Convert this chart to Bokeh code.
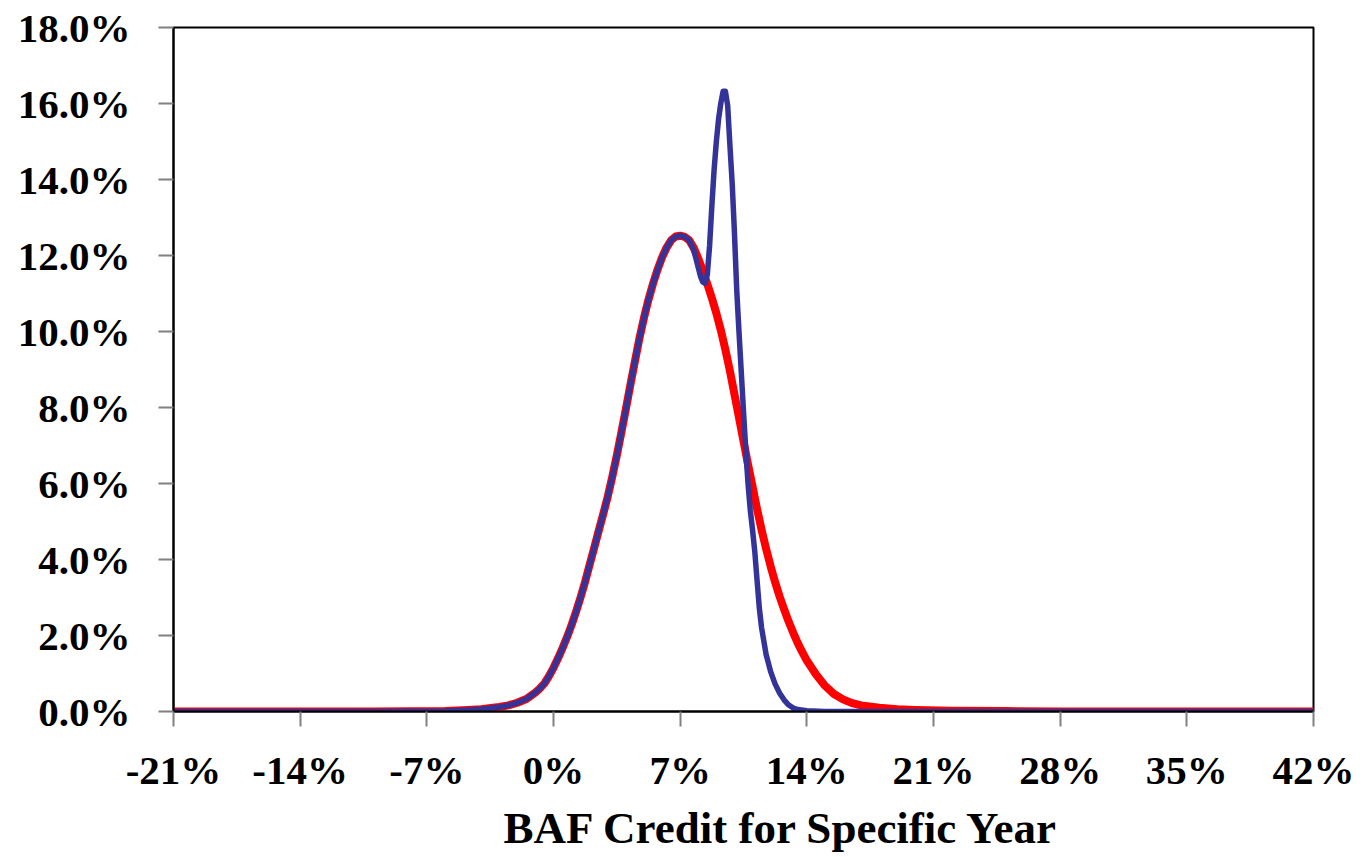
from bokeh.plotting import figure
from bokeh.models import FixedTicker, PrintfTickFormatter, Range1d, Title
from bokeh.embed import file_html
from bokeh.resources import INLINE

# BAF credit (%) and probability (%)
x_red = [-21, -10, -6, -5, -4, -3, -2.5, -2, -1.5, -1, -0.75, -0.5, -0.25, 0, 0.25, 0.5, 0.75,
         1, 1.25, 1.5, 1.75, 2, 2.25, 2.5, 2.75, 3, 3.25, 3.5, 3.75, 4, 4.25, 4.5, 4.75, 5,
         5.25, 5.5, 5.75, 6, 6.25, 6.5, 6.75, 7, 7.25, 7.5, 7.75, 8, 8.25, 8.5, 8.75, 9,
         9.25, 9.5, 9.75, 10, 10.25, 10.5, 10.75, 11, 11.25, 11.5, 11.75, 12, 12.25, 12.5,
         12.75, 13, 13.25, 13.5, 13.75, 14, 14.5, 15, 15.5, 16, 16.5, 17, 18, 19, 20, 22,
         25, 28, 35, 42]
red_series = [0, 0, 0.01, 0.03, 0.06, 0.12, 0.16, 0.23, 0.33, 0.50, 0.61, 0.74, 0.93, 1.15,
              1.40, 1.67, 1.96, 2.28, 2.63, 3.01, 3.42, 3.87, 4.31, 4.76, 5.20, 5.66, 6.18,
              6.74, 7.34, 7.96, 8.60, 9.22, 9.82, 10.36, 10.84, 11.26, 11.63, 11.95, 12.21,
              12.40, 12.50, 12.52, 12.49, 12.40, 12.20, 11.92, 11.60, 11.25, 10.88, 10.48,
              10.03, 9.52, 8.96, 8.35, 7.74, 7.12, 6.50, 5.92, 5.33, 4.78, 4.28, 3.82, 3.40,
              3.02, 2.68, 2.36, 2.07, 1.80, 1.56, 1.34, 0.98, 0.68, 0.46, 0.32, 0.22, 0.16,
              0.10, 0.06, 0.04, 0.02, 0.01, 0, 0, 0]

x_blue = [-21, -10, -6, -5, -4, -3, -2.5, -2, -1.5, -1, -0.75, -0.5, -0.25, 0, 0.25, 0.5, 0.75,
          1, 1.25, 1.5, 1.75, 2, 2.25, 2.5, 2.75, 3, 3.25, 3.5, 3.75, 4, 4.25, 4.5, 4.75, 5,
          5.25, 5.5, 5.75, 6, 6.25, 6.5, 6.75, 7, 7.25, 7.5, 7.75, 8, 8.125, 8.25, 8.375,
          8.5, 8.625, 8.75, 8.875, 9, 9.125, 9.25, 9.375, 9.5, 9.625, 9.75, 9.875, 10,
          10.125, 10.25, 10.375, 10.5, 10.625, 10.75, 10.875, 11, 11.125, 11.25, 11.375,
          11.5, 11.75, 12, 12.25, 12.5, 12.75, 13, 13.25, 13.5, 14, 15, 20, 28, 35, 42]
blue_series = [0, 0, 0.01, 0.03, 0.06, 0.12, 0.16, 0.23, 0.33, 0.50, 0.61, 0.74, 0.93, 1.15,
               1.40, 1.67, 1.96, 2.28, 2.63, 3.01, 3.42, 3.87, 4.31, 4.76, 5.20, 5.66, 6.18,
               6.74, 7.34, 7.96, 8.60, 9.22, 9.82, 10.36, 10.84, 11.26, 11.63, 11.95, 12.21,
               12.40, 12.50, 12.52, 12.49, 12.40, 12.15, 11.68, 11.45, 11.30, 11.27, 11.50,
               12.25, 13.30, 14.25, 15.00, 15.60, 16.02, 16.32, 16.32, 15.95, 14.90, 13.90,
               12.60, 11.10, 10.00, 8.95, 7.90, 6.90, 6.00, 5.30, 4.78, 4.20, 3.45, 2.72,
               2.20, 1.50, 1.05, 0.72, 0.48, 0.30, 0.17, 0.09, 0.05, 0.02, 0, 0, 0, 0, 0]

x_ticks = [-21, -14, -7, 0, 7, 14, 21, 28, 35, 42]
y_ticks = [0, 2, 4, 6, 8, 10, 12, 14, 16, 18]
x_title = "BAF Credit for Specific Year"

FONT = "Liberation Serif"

p = figure(width=1358, height=857, output_backend="svg", toolbar_location=None,
           x_range=Range1d(-21, 42), y_range=Range1d(0, 18),
           min_border_left=173, min_border_top=27, min_border_right=45,
           min_border_bottom=145)

p.background_fill_color = "white"
p.border_fill_color = "white"
p.grid.visible = False
p.outline_line_color = "black"
p.outline_line_width = 2

p.line(x_red, red_series, line_color="#FF0000", line_width=8,
       line_join="round", line_cap="round")
p.line(x_blue, blue_series, line_color="#333399", line_width=5.5,
       line_join="round", line_cap="round")

for ax in (p.xaxis[0], p.yaxis[0]):
    ax.axis_line_color = "black"
    ax.axis_line_width = 2
    ax.major_tick_line_color = "#808080"
    ax.major_tick_line_width = 2
    ax.major_tick_out = 15
    ax.major_tick_in = 0
    ax.minor_tick_line_color = None
    ax.major_label_text_font = FONT
    ax.major_label_text_font_style = "bold"
    ax.major_label_text_font_size = "41px"
    ax.major_label_text_color = "black"

p.xaxis.ticker = FixedTicker(ticks=x_ticks)
p.yaxis.ticker = FixedTicker(ticks=y_ticks)
p.xaxis.formatter = PrintfTickFormatter(format="%d%%")
p.yaxis.formatter = PrintfTickFormatter(format="%.1f%%")
p.xaxis.major_label_standoff = 20
p.yaxis.major_label_standoff = 28

title = Title(text=x_title, align="left", offset=330, text_font=FONT,
              text_font_style="bold", text_font_size="45px", text_color="black",
              standoff=10)
p.add_layout(title, "below")

open("out.html", "w").write(file_html(p, INLINE))
